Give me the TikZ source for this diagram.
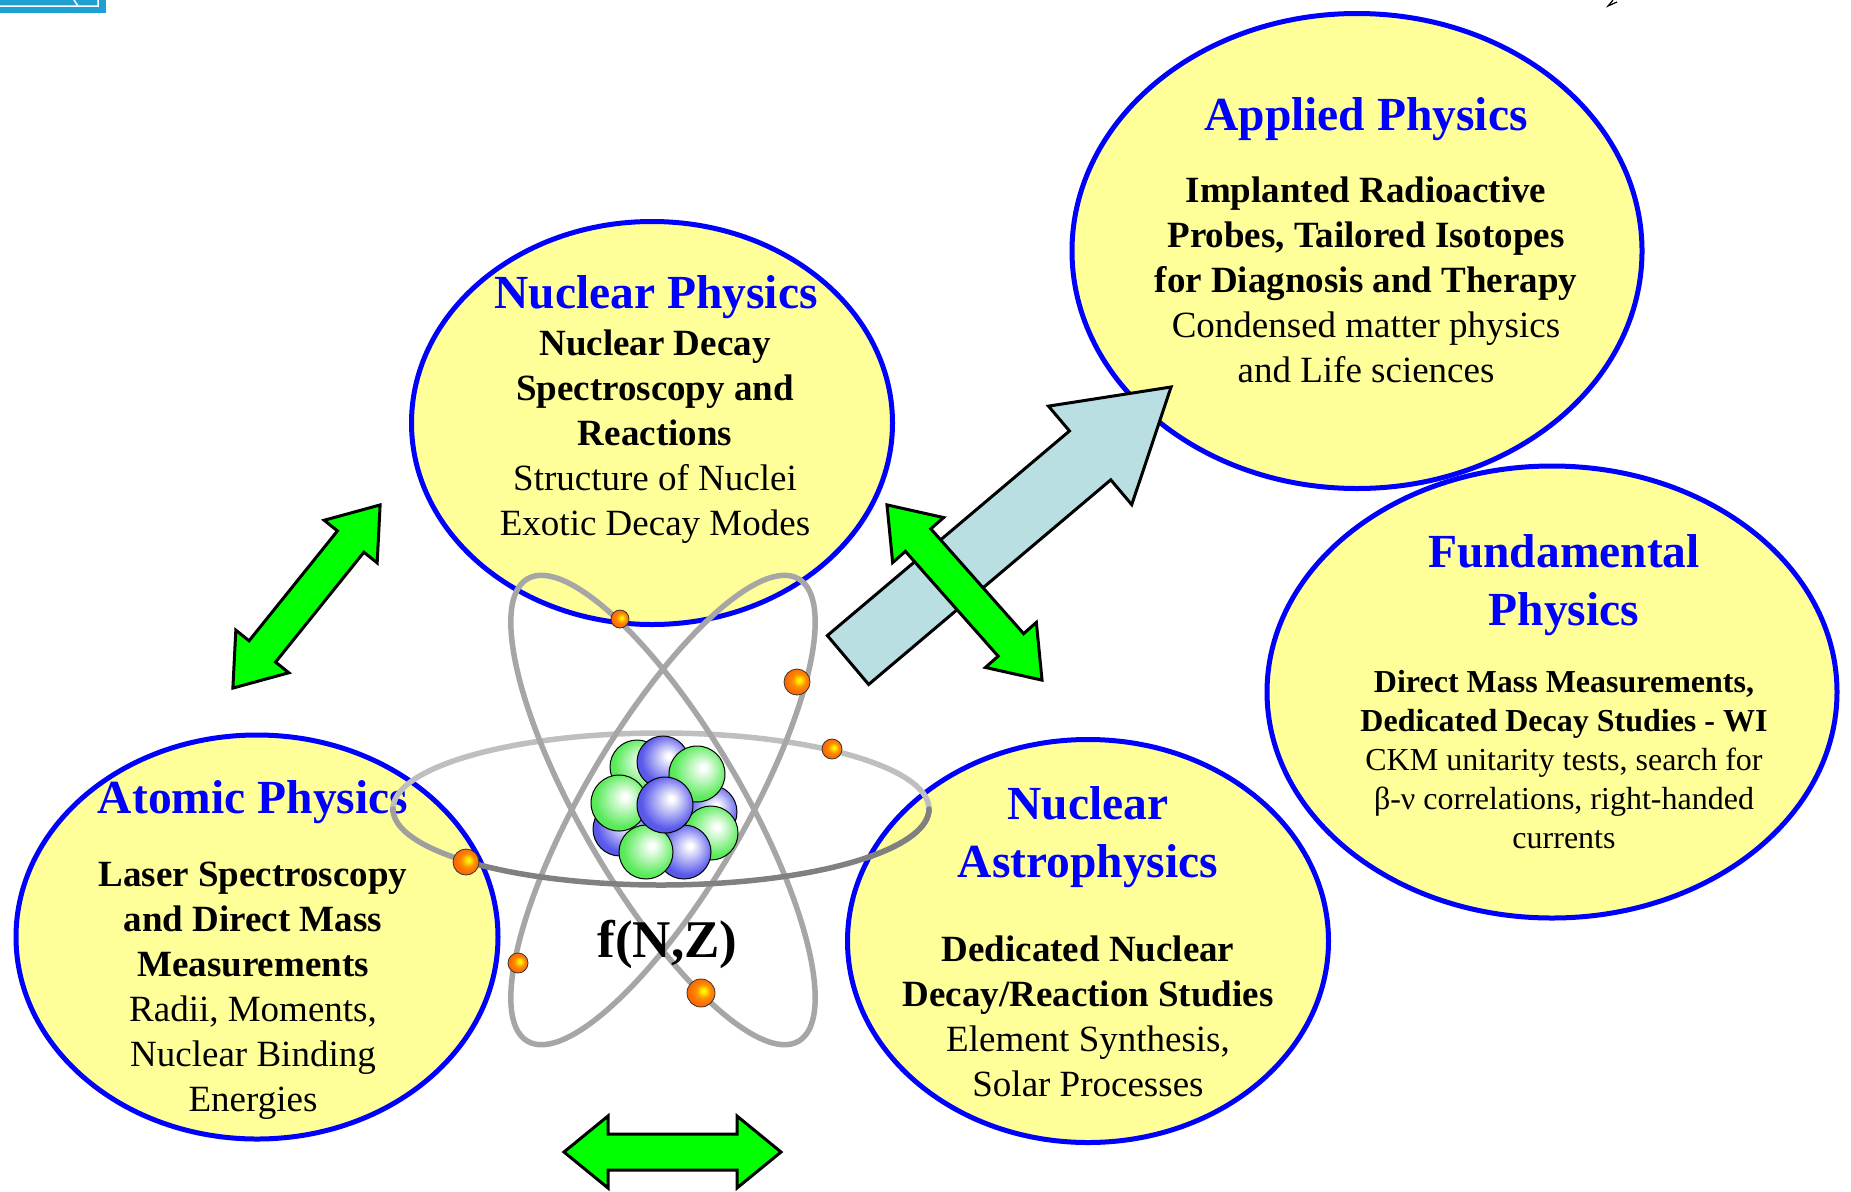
\documentclass[tikz,border=0pt]{standalone}
\usepackage{fontspec}
\setmainfont{Liberation Serif}
\usetikzlibrary{shapes.geometric}

\definecolor{lemon}{RGB}{255,255,153}
\definecolor{rim}{RGB}{0,0,255}
\definecolor{leaf}{RGB}{0,255,0}
\definecolor{ice}{RGB}{185,223,227}
\definecolor{logoblue}{RGB}{30,160,210}
\definecolor{nblue}{RGB}{90,90,235}
\definecolor{ngreen}{RGB}{90,235,90}
\definecolor{eorange}{RGB}{255,140,0}

% sphere shadings for protons, neutrons and electrons (highlight upper right)
\pgfdeclareradialshading{protonball}{\pgfpoint{6bp}{6bp}}{color(0bp)=(white); color(2bp)=(white); color(12bp)=(nblue!45!white); color(24bp)=(nblue); color(50bp)=(nblue!85!black)}
\pgfdeclareradialshading{neutronball}{\pgfpoint{6bp}{6bp}}{color(0bp)=(white); color(2bp)=(white); color(12bp)=(ngreen!45!white); color(24bp)=(ngreen); color(50bp)=(ngreen!85!black)}
\pgfdeclareradialshading{electronball}{\pgfpoint{5bp}{4bp}}{color(0bp)=(yellow); color(4bp)=(yellow!80!eorange); color(13bp)=(eorange); color(24bp)=(eorange!75!red); color(50bp)=(eorange!60!red)}

\begin{document}
\begin{tikzpicture}[x=1pt,y=-1pt,
  field/.style={ellipse, draw=rim, fill=lemon, line width=5pt, inner sep=0pt},
  head/.style={text=rim, font=\bfseries\fontsize{47.5}{58.5}\selectfont, align=center, anchor=base, inner sep=0pt},
  body/.style={font=\fontsize{37}{45}\selectfont, align=center, anchor=base, inner sep=0pt},
  smallbody/.style={font=\fontsize{32}{39}\selectfont, align=center, anchor=base, inner sep=0pt},
  greenarrow/.style={fill=leaf, draw=black, line width=3pt, line join=miter},
  icearrow/.style={fill=ice, draw=black, line width=3pt, line join=miter},
  orbit/.style={line width=5.5pt, line cap=round},
  proton/.style={shading=protonball, draw=black, line width=1pt},
  neutron/.style={shading=neutronball, draw=black, line width=1pt},
  electron/.style={shading=electronball, draw=black!80, line width=0.8pt}]

\useasboundingbox (0,0) rectangle (1851,1191);
\fill[white] (0,0) rectangle (1851,1191);

% corner fragments
\fill[logoblue] (0,0) rectangle (106,13);
\draw[white, line width=1.5pt] (0,6) -- (98,6) -- (98,0) (74,0) -- (78,6);
\draw[black, line width=1.2pt, line join=miter] (1613,0) -- (1608,6) -- (1617,2);

% research fields
\node[field, minimum width=482pt, minimum height=404pt] (atomic) at (257,937) {};
\node[field, minimum width=481pt, minimum height=403pt] (nuclear) at (652,423) {};
\node[field, minimum width=570pt, minimum height=475pt] (applied) at (1357,251) {};
\node[field, minimum width=570pt, minimum height=452pt] (fundamental) at (1552,692) {};
\node[field, minimum width=481pt, minimum height=403pt] (astro) at (1088,941) {};

% texts of the fields (a multi-line node sits on the baseline of its last line)
\node[head] (nuclearT) at (656,308) {Nuclear Physics};
\node[body] (nuclearB) at (655,535) {\textbf{Nuclear Decay}\\\textbf{Spectroscopy and}\\\textbf{Reactions}\\Structure of Nuclei\\Exotic Decay Modes};

\node[head] (appliedT) at (1366,130) {Applied Physics};
\node[body] (appliedB) at (1366,382.5) {\textbf{Implanted Radioactive}\\\textbf{Probes, Tailored Isotopes}\\\textbf{for Diagnosis and Therapy}\\Condensed matter physics\\and Life sciences};

\node[head] (fundamentalT) at (1564,625.5) {Fundamental\\Physics};
\node[smallbody] (fundamentalB) at (1564,848) {\textbf{Direct Mass Measurements,}\\\textbf{Dedicated Decay Studies - WI}\\CKM unitarity tests, search for\\β-ν correlations, right-handed\\currents};

\node[head] (atomicT) at (253,813) {Atomic Physics};
\node[body] (atomicB) at (253,1111.5) {\textbf{Laser Spectroscopy}\\\textbf{and Direct Mass}\\\textbf{Measurements}\\Radii, Moments,\\Nuclear Binding\\Energies};

\node[head] (astroT) at (1088,877.5) {Nuclear\\Astrophysics};
\node[body] (astroB) at (1088,1096.5) {\textbf{Dedicated Nuclear}\\\textbf{Decay/Reaction Studies}\\Element Synthesis,\\Solar Processes};

% block arrows
\begin{scope}[shift={(848,660)}, rotate=40.2]
  \draw[icearrow] (0,32) -- (317,32) -- (317,64.5) -- (423,0) -- (317,-64.5) -- (317,-32) -- (0,-32) -- cycle;
\end{scope}
\begin{scope}[shift={(306.5,596.5)}, rotate=51.2]
  \draw[greenarrow] (-117.5,0) -- (-70.5,34) -- (-70.5,17) -- (70.5,17) -- (70.5,34) -- (117.5,0) -- (70.5,-34) -- (70.5,-17) -- (-70.5,-17) -- (-70.5,-34) -- cycle;
\end{scope}
\begin{scope}[shift={(964.5,592.5)}, rotate=-48.5]
  \draw[greenarrow] (-117,0) -- (-70,34) -- (-70,17) -- (70,17) -- (70,34) -- (117,0) -- (70,-34) -- (70,-17) -- (-70,-17) -- (-70,-34) -- cycle;
\end{scope}
\begin{scope}[shift={(672.5,1152)}]
  \draw[greenarrow] (-108.5,0) -- (-64.5,-36) -- (-64.5,-18) -- (64.5,-18) -- (64.5,-36) -- (108.5,0) -- (64.5,36) -- (64.5,18) -- (-64.5,18) -- (-64.5,36) -- cycle;
\end{scope}

% atom: back half of the equatorial orbit
\draw[orbit, gray!50] (393,809) arc[start angle=180, end angle=360, x radius=268, y radius=76];
% tilted orbits
\draw[orbit, gray!70, rotate around={30.4:(663,810)}] (663,810) ellipse [x radius=80, y radius=268];
\draw[orbit, gray!70, rotate around={-30.4:(663,810)}] (663,810) ellipse [x radius=80, y radius=268];

% label of the atom
\node[font=\bfseries\fontsize{53}{60}\selectfont, anchor=base, inner sep=0pt] (fnz) at (667.5,957) {f(N,Z)};

% nucleus, back to front
\shade[neutron] (637,767) circle (27);
\shade[proton]  (620,829) circle (27);
\shade[proton]  (710,812) circle (27);
\shade[proton]  (663,762) circle (26);
\shade[neutron] (697,774) circle (28);
\shade[neutron] (619,803) circle (28);
\shade[neutron] (711,833) circle (27);
\shade[proton]  (684,852) circle (27);
\shade[neutron] (646,852) circle (27);
\shade[proton]  (665,805) circle (28);

% front half of the equatorial orbit
\draw[orbit, gray!75] (929,809) arc[start angle=0, end angle=40, x radius=268, y radius=76];
\draw[orbit, gray!100] (929,809) arc[start angle=0, end angle=40, x radius=268, y radius=76]
  arc[start angle=40, end angle=140, x radius=268, y radius=76];
\draw[orbit, gray!75] (393,809) arc[start angle=180, end angle=140, x radius=268, y radius=76];

% electrons
\shade[electron] (620,619) circle (9);
\shade[electron] (797,682) circle (13);
\shade[electron] (832,749) circle (10);
\shade[electron] (466,862) circle (13);
\shade[electron] (518,963) circle (10);
\shade[electron] (701,993) circle (14);
\end{tikzpicture}
\end{document}
